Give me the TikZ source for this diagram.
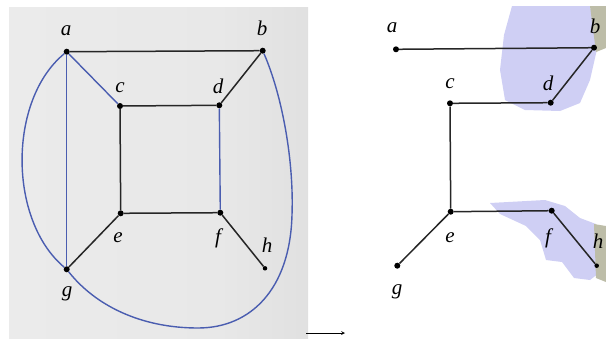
\documentclass[tikz,border=0pt]{standalone}
\usepackage{fontspec}
\setmainfont{Liberation Serif}
\pgfdeclarehorizontalshading{pagegrad}{100bp}{
  color(0bp)=(gray!14); color(60bp)=(gray!18); color(85bp)=(gray!28); color(96bp)=(gray!45); color(100bp)=(gray!55)}
\definecolor{eblue}{HTML}{4A5DB0}
\definecolor{lav}{HTML}{CFCFF4}
\definecolor{khaki}{HTML}{BDBDA8}
\tikzset{
  vtx/.style={circle,fill=black,inner sep=0pt,minimum size=6pt},
  lbl/.style={font=\fontsize{21}{21}\selectfont\itshape,inner sep=0pt},
  bedge/.style={line width=1.5pt,black!85},
  uedge/.style={line width=1.4pt,eblue}
}
\begin{document}
\begin{tikzpicture}[x=1pt,y=-1pt]
\useasboundingbox (0,0) rectangle (606,338);
% left panel background
\shade[shading=pagegrad] (9,7) rectangle (308,338);
% blotches on the right
\fill[lav] (512,6) -- (590,6) -- (598,45) -- (590,80) -- (580,103) -- (560,111) -- (525,110) -- (505,100) -- (500,70) -- (504,35) -- cycle;
\fill[khaki] (590,6) -- (606,6) -- (606,48) -- (596,52) -- cycle;
\fill[lav] (490,203) -- (545,200) -- (565,206) -- (580,218) -- (596,224) -- (603,270) -- (590,280) -- (574,278) -- (562,262) -- (546,260) -- (540,240) -- (526,226) -- (500,214) -- cycle;
\fill[khaki] (594,224) -- (606,226) -- (606,282) -- (596,278) -- cycle;
% left graph
\node[vtx] (a) at (66.7,51.7) {};
\node[vtx] (b) at (262.7,50.7) {};
\node[vtx] (c) at (120,106) {};
\node[vtx] (d) at (219.3,105.3) {};
\node[vtx] (e) at (120.7,213.3) {};
\node[vtx] (f) at (220.3,212.7) {};
\node[vtx,minimum size=4.5pt] (h) at (265,268.3) {};
\node[vtx] (g) at (66.7,269.3) {};
\node[lbl] at (66,31) {a};
\node[lbl] at (262,28) {b};
\node[lbl] at (120,88) {c};
\node[lbl] at (218,86) {d};
\node[lbl] at (118,238) {e};
\node[lbl] at (218,238) {f};
\node[lbl] at (267,245) {h};
\node[lbl] at (67,294) {g};
\draw[bedge] (a) -- (b);
\draw[bedge] (b) -- (d);
\draw[bedge] (c) -- (d);
\draw[bedge] (c) -- (e);
\draw[bedge] (e) -- (f);
\draw[bedge] (e) -- (g);
\draw[bedge] (f) -- (h);
\draw[uedge] (a) -- (g);
\draw[uedge] (a) -- (c);
\draw[uedge] (d) -- (f);
\draw[uedge] (a) .. controls (8,100) and (8,220) .. (g);
\draw[uedge] (b) .. controls (282,95) and (294,160) .. (292,215) .. controls (290,290) and (250,328) .. (198,328) .. controls (140,328) and (95,305) .. (g);
% arrow
\coordinate (ar1) at (306,333);
\coordinate (ar2) at (345,333);
\draw[-stealth,line width=0.7pt] (ar1) -- (ar2);
% right graph
\node[vtx] (a2) at (396,49.3) {};
\node[vtx] (b2) at (594,47.7) {};
\node[vtx] (c2) at (450,103.3) {};
\node[vtx] (d2) at (550.7,102.7) {};
\node[vtx] (e2) at (450.7,211.7) {};
\node[vtx] (f2) at (551.7,210.7) {};
\node[vtx,minimum size=4.5pt] (h2) at (596.7,265.7) {};
\node[vtx] (g2) at (397.3,265.7) {};
\node[lbl] at (392,28) {a};
\node[lbl] at (595,26) {b};
\node[lbl] at (450,84) {c};
\node[lbl] at (548,83) {d};
\node[lbl] at (450,238) {e};
\node[lbl] at (548,238) {f};
\node[lbl] at (598,241) {h};
\node[lbl] at (397,292) {g};
\draw[bedge] (a2) -- (b2);
\draw[bedge] (b2) -- (d2);
\draw[bedge] (c2) -- (d2);
\draw[bedge] (c2) -- (e2);
\draw[bedge] (e2) -- (f2);
\draw[bedge] (e2) -- (g2);
\draw[bedge] (f2) -- (h2);
\end{tikzpicture}
\end{document}
